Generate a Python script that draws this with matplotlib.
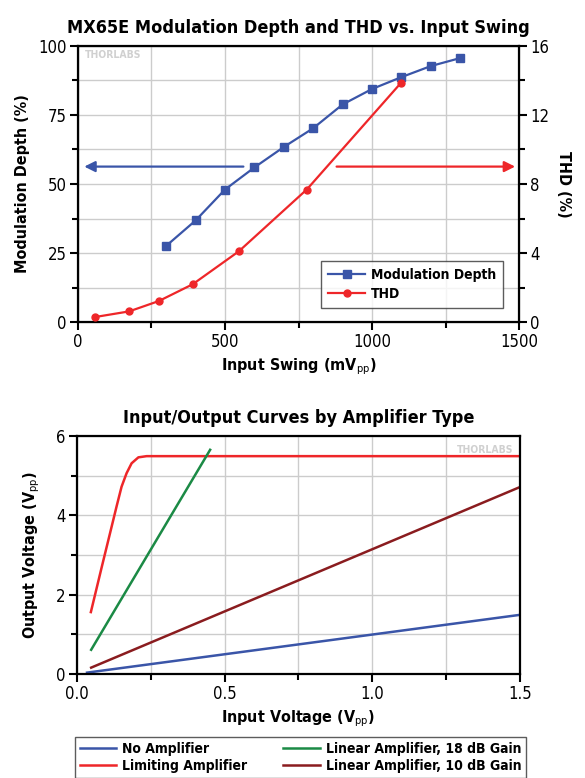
import numpy as np
import matplotlib
matplotlib.use('Agg')
import matplotlib.pyplot as plt
from matplotlib.ticker import MultipleLocator

plt.rcParams['font.family'] = ['DejaVu Sans']
plt.rcParams['font.stretch'] = 'condensed'
plt.rcParams['mathtext.fontset'] = 'custom'
plt.rcParams['mathtext.rm'] = 'DejaVu Sans:stretch=condensed'

# top chart data
mod_x = [300, 400, 500, 600, 700, 800, 900, 1000, 1100, 1200, 1300]
mod_y = [27.6, 36.8, 48.0, 56.0, 63.4, 70.2, 78.8, 84.4, 88.7, 92.7, 95.6]
thd_x = [57, 174, 275, 390, 547, 778, 1098]
thd_y = [0.29, 0.62, 1.22, 2.19, 4.1, 7.68, 13.85]

# bottom chart data
none_x = [0.034, 1.5]
none_y = [0.034, 1.49]
lim_x = [0.047, 0.084, 0.112, 0.134, 0.151, 0.168, 0.185, 0.208, 0.236, 1.5]
lim_y = [1.56, 2.70, 3.55, 4.22, 4.72, 5.06, 5.31, 5.46, 5.49, 5.49]
g18_x = [0.048, 0.451]
g18_y = [0.61, 5.65]
g10_x = [0.048, 1.5]
g10_y = [0.16, 4.71]

BLUE = '#3a55a8'
RED = '#ee2629'
GREEN = '#1b8a45'
DRED = '#8a1c1f'
GRID = '#cccccc'


def style_axis(ax):
    for s in ax.spines.values():
        s.set_linewidth(1.6)
    ax.tick_params(which='major', direction='out', length=6, width=1.5, labelsize=12, pad=2)
    ax.tick_params(which='minor', direction='out', length=4, width=1.5)
    ax.grid(which='both', color=GRID, linewidth=1.0)
    ax.set_axisbelow(True)


def watermark(ax, x, y, ha):
    ax.text(x, y, 'THORLABS', transform=ax.transAxes, ha=ha, va='top',
            fontsize=7.5, fontweight='bold', color='#d0d0d0')


fig = plt.figure(figsize=(5.85, 7.78), dpi=100)

# ---- top chart
ax1 = fig.add_axes([0.1333, 0.586, 0.754, 0.355])
style_axis(ax1)
ax1.set_xlim(0, 1500)
ax1.set_ylim(0, 100)
ax1.xaxis.set_major_locator(MultipleLocator(500))
ax1.xaxis.set_minor_locator(MultipleLocator(250))
ax1.yaxis.set_major_locator(MultipleLocator(25))
ax1.yaxis.set_minor_locator(MultipleLocator(12.5))
l1, = ax1.plot(mod_x, mod_y, color=BLUE, lw=1.6, marker='s', ms=5.5, label='Modulation Depth')
ax1.set_xlabel('Input Swing (mV$_{\\rm pp}$)', fontsize=11.5, fontweight='bold', labelpad=4)
ax1.set_ylabel('Modulation Depth (%)', fontsize=11.5, fontweight='bold', labelpad=6)
ax1.set_title('MX65E Modulation Depth and THD vs. Input Swing', fontsize=13,
              fontweight='bold', pad=9)
watermark(ax1, 0.015, 0.985, 'left')

ax2 = ax1.twinx()
ax2.set_ylim(0, 16)
ax2.yaxis.set_major_locator(MultipleLocator(4))
ax2.yaxis.set_minor_locator(MultipleLocator(2))
ax2.tick_params(which='major', direction='out', length=6, width=1.5, labelsize=12, pad=2)
ax2.tick_params(which='minor', direction='out', length=4, width=1.5)
l2, = ax2.plot(thd_x, thd_y, color=RED, lw=1.6, marker='o', ms=5, label='THD')
ax2.set_ylabel('THD (%)', fontsize=11.5, fontweight='bold', rotation=270, labelpad=16)

ax1.annotate('', xy=(12, 56.3), xytext=(572, 56.3),
             arrowprops=dict(arrowstyle='-|>', color=BLUE, lw=1.6, mutation_scale=16))
ax1.annotate('', xy=(1496, 56.3), xytext=(870, 56.3),
             arrowprops=dict(arrowstyle='-|>', color=RED, lw=1.6, mutation_scale=16))

leg = ax1.legend(handles=[l1, l2], loc='lower right', bbox_to_anchor=(0.964, 0.051),
                 borderaxespad=0, fontsize=10, frameon=True, fancybox=False,
                 edgecolor='#333333', handlelength=2.7, borderpad=0.5, labelspacing=0.35,
                 handletextpad=0.4)
leg.get_frame().set_linewidth(1.0)
for t in leg.get_texts():
    t.set_fontweight('bold')

# ---- bottom chart
ax3 = fig.add_axes([0.1316, 0.1337, 0.757, 0.306])
style_axis(ax3)
ax3.set_xlim(0, 1.5)
ax3.set_ylim(0, 6)
ax3.xaxis.set_major_locator(MultipleLocator(0.5))
ax3.xaxis.set_minor_locator(MultipleLocator(0.25))
ax3.yaxis.set_major_locator(MultipleLocator(2))
ax3.yaxis.set_minor_locator(MultipleLocator(1))
ax3.xaxis.set_major_formatter(matplotlib.ticker.FormatStrFormatter('%.1f'))
h1, = ax3.plot(none_x, none_y, color=BLUE, lw=1.8, label='No Amplifier')
h2, = ax3.plot(lim_x, lim_y, color=RED, lw=1.8, label='Limiting Amplifier')
h3, = ax3.plot(g18_x, g18_y, color=GREEN, lw=1.8, label='Linear Amplifier, 18 dB Gain')
h4, = ax3.plot(g10_x, g10_y, color=DRED, lw=1.8, label='Linear Amplifier, 10 dB Gain')
ax3.set_xlabel('Input Voltage (V$_{\\rm pp}$)', fontsize=11.5, fontweight='bold', labelpad=4)
ax3.set_ylabel('Output Voltage (V$_{\\rm pp}$)', fontsize=11.5, fontweight='bold', labelpad=10)
ax3.set_title('Input/Output Curves by Amplifier Type', fontsize=13, fontweight='bold', pad=9)
watermark(ax3, 0.985, 0.96, 'right')

leg2 = fig.legend(handles=[h1, h2, h3, h4], loc='upper left',
                  bbox_to_anchor=(75 / 585, 1 - 737 / 778), borderaxespad=0, ncol=2,
                  fontsize=10, frameon=True, fancybox=False, edgecolor='#333333',
                  handlelength=2.6, borderpad=0.35, labelspacing=0.2, handletextpad=0.45,
                  columnspacing=2.6)
leg2.get_frame().set_linewidth(1.0)
for t in leg2.get_texts():
    t.set_fontweight('bold')

fig.savefig('out.png', dpi=100)
